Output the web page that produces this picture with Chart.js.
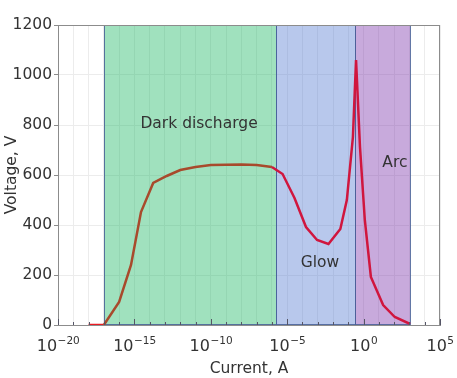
<!DOCTYPE html>
<html>
<head>
<meta charset="utf-8">
<script src="https://cdn.jsdelivr.net/npm/chart.js@4.4.1/dist/chart.umd.min.js"></script>
<style>
  html, body { margin: 0; padding: 0; background: #fff; }
</style>
</head>
<body>
<canvas id="ivChart" width="457" height="378"></canvas>
<script>
// Gas discharge I-V curve
const current = [1e-18, 1e-17, 1e-16, 6e-16, 2.7e-15, 1.7e-14, 1.3e-13, 1e-12, 1e-11, 1e-10, 1e-8, 1e-7, 1e-6,
                 5e-6, 3e-5, 1.7e-4, 9e-4, 5e-3, 3e-2, 8e-2, 0.2, 0.32, 0.58, 1.2, 3, 19, 110, 1100];
const voltage = [0, 0, 92, 240, 452, 568, 596, 620, 632, 640, 642, 640, 632,
                 604, 508, 392, 340, 324, 384, 500, 752, 1060, 712, 420, 192, 80, 32, 4];

// Discharge regimes
const regionNames = ['Dark discharge', 'Glow', 'Arc'];
const regionStart = [1e-17, 1.9e-6, 0.28];
const regionEnd = [1.9e-6, 0.28, 1100];

// Tick labels
const xTickExponents = [-20, -19, -18, -17, -16, -15, -14, -13, -12, -11, -10, -9, -8, -7, -6, -5, -4, -3, -2, -1, 0, 1, 2, 3, 4, 5];
const xLabelExponents = [-20, -15, -10, -5, 0, 5];
const yTicks = [0, 200, 400, 600, 800, 1000, 1200];

const regionFill = ['rgba(44,188,111,0.45)', 'rgba(97,133,213,0.45)', 'rgba(133,66,177,0.45)'];
const regionEdge = 'rgba(70,95,150,0.85)';
// where each regime label sits (current, voltage)
const labelAt = [[1.7e-11, 804], [1.4e-3, 248], [112, 648]];
const FONT = 'DejaVu Sans, Verdana, sans-serif';

const regionPlugin = {
    id: 'regions',
    beforeDatasetsDraw(chart) {
        const { ctx, chartArea: a, scales: { x, y } } = chart;
        ctx.save();
        regionStart.forEach((s, i) => {
            const x0 = Math.round(x.getPixelForValue(s));
            const x1 = Math.round(x.getPixelForValue(regionEnd[i]));
            ctx.fillStyle = regionFill[i];
            ctx.fillRect(x0, a.top, x1 - x0, a.bottom - a.top);
            ctx.strokeStyle = regionEdge;
            ctx.lineWidth = 1;
            ctx.strokeRect(x0 + 0.5, a.top + 0.5, x1 - x0, a.bottom - a.top - 1);
        });
        ctx.fillStyle = '#333';
        ctx.font = '15.5px ' + FONT;
        ctx.textAlign = 'center';
        ctx.textBaseline = 'middle';
        regionNames.forEach((name, i) => {
            ctx.fillText(name, x.getPixelForValue(labelAt[i][0]), y.getPixelForValue(labelAt[i][1]));
        });
        ctx.restore();
    },
    afterDraw(chart) {
        const { ctx, chartArea: a, scales: { x } } = chart;
        ctx.save();
        ctx.strokeStyle = '#8c8c8c';
        ctx.lineWidth = 1;
        ctx.strokeRect(a.left + 0.5, a.top + 0.5, a.right - a.left - 1, a.bottom - a.top);
        // inward ticks on the current axis
        ctx.strokeStyle = '#556';
        xTickExponents.forEach(e => {
            const px = Math.round(x.getPixelForValue(Math.pow(10, e))) + 0.5;
            const len = e % 5 === 0 ? 6 : 3;
            ctx.beginPath();
            ctx.moveTo(px, a.bottom);
            ctx.lineTo(px, a.bottom - len);
            ctx.stroke();
        });
        // power-of-ten labels with a raised exponent
        ctx.fillStyle = '#333';
        ctx.textBaseline = 'alphabetic';
        ctx.textAlign = 'left';
        xLabelExponents.forEach(e => {
            const base = '10';
            const sup = String(e).replace('-', '\u2212');
            ctx.font = '16px ' + FONT;
            const wb = ctx.measureText(base).width;
            ctx.font = '10.5px ' + FONT;
            const ws = ctx.measureText(sup).width;
            const left = x.getPixelForValue(Math.pow(10, e)) - (wb + ws) / 2;
            ctx.font = '16px ' + FONT;
            ctx.fillText(base, left, a.bottom + 26);
            ctx.font = '10.5px ' + FONT;
            ctx.fillText(sup, left + wb + 0.5, a.bottom + 19);
        });
        ctx.restore();
    }
};

const ctx = document.getElementById('ivChart').getContext('2d');
new Chart(ctx, {
    type: 'line',
    data: {
        datasets: [{
            data: current.map((c, i) => ({ x: c, y: voltage[i] })),
            borderColor: '#dc143c',
            borderWidth: 2.5,
            pointRadius: 0,
            tension: 0,
            segment: {
                borderColor: c => {
                    if (c.p0DataIndex === 0) return '#ea1c24';
                    if (c.p1.parsed.x <= regionEnd[0]) return '#a84a2c';
                    return '#d0163e';
                }
            }
        }]
    },
    options: {
        responsive: false,
        animation: false,
        layout: { padding: { left: 0, right: 17, top: 25, bottom: 0 } },
        plugins: { legend: { display: false }, tooltip: { enabled: false } },
        scales: {
            x: {
                type: 'logarithmic',
                min: 1e-20,
                max: 1e5,
                afterBuildTicks: s => { s.ticks = xTickExponents.map(e => ({ value: Math.pow(10, e) })); },
                afterFit: s => { s.height = 53; s.paddingLeft = 0; s.paddingRight = 0; },
                ticks: { autoSkip: false, maxRotation: 0, callback: () => '' },
                grid: { color: '#ececec', drawTicks: false },
                border: { color: '#8c8c8c' },
                title: { display: true, text: 'Current, A', color: '#333', font: { family: FONT, size: 15.5 }, padding: { top: 2, bottom: 0 } }
            },
            y: {
                min: 0,
                max: 1200,
                afterBuildTicks: s => { s.ticks = yTicks.map(v => ({ value: v })); },
                afterFit: s => { s.width = 58; },
                ticks: { color: '#333', padding: 2, font: { family: FONT, size: 15.5 }, callback: v => String(v) },
                grid: { color: '#ececec', tickLength: 4, tickColor: '#8c8c8c' },
                border: { color: '#8c8c8c' },
                title: { display: true, text: 'Voltage, V', color: '#333', font: { family: FONT, size: 15.5 }, padding: { top: 3, bottom: 0 } }
            }
        }
    },
    plugins: [regionPlugin]
});
</script>
</body>
</html>
